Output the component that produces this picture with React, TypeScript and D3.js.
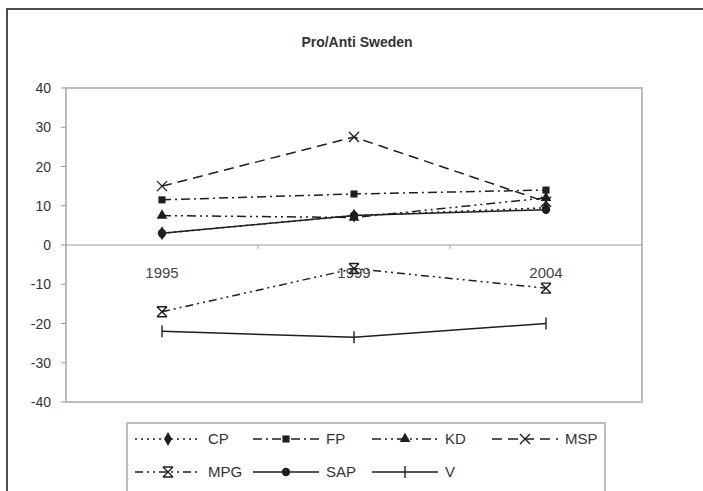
import React from "react";
import * as d3 from "d3";

const years = ["1995", "1999", "2004"];
const yTicks = [40, 30, 20, 10, 0, -10, -20, -30, -40];
const seriesNames = ["CP", "FP", "KD", "MSP", "MPG", "SAP", "V"];
const cpValues = [3, 7.5, 9.5];
const fpValues = [11.5, 13, 14];
const kdValues = [7.5, 7, 12];
const mspValues = [15, 27.5, 11];
const mpgValues = [-17, -6, -11];
const sapValues = [3, 7.5, 9];
const vValues = [-22, -23.5, -20];

const W = 703;
const H = 491;
const plot = { left: 66, right: 642, top: 88, bottom: 402 };

type Style = { dash: string | null; marker: string };
const styles: Record<string, Style> = {
  CP: { dash: "2,4", marker: "diamond" },
  FP: { dash: "9,4,2,4", marker: "square" },
  KD: { dash: "9,4,2,4,2,4", marker: "triangle" },
  MSP: { dash: "10,6", marker: "x" },
  MPG: { dash: "8,4,2,4,2,4", marker: "hourglass" },
  SAP: { dash: null, marker: "circle" },
  V: { dash: null, marker: "plus" },
};

const valuesByName: Record<string, number[]> = {
  CP: cpValues,
  FP: fpValues,
  KD: kdValues,
  MSP: mspValues,
  MPG: mpgValues,
  SAP: sapValues,
  V: vValues,
};

const INK = "#1e1e1e";

function Marker({ kind, x, y }: { kind: string; x: number; y: number }) {
  const t = `translate(${x},${y})`;
  if (kind === "diamond")
    return <path transform={t} d={d3.symbol().type(d3.symbolDiamond).size(55)()!} fill={INK} />;
  if (kind === "square")
    return <path transform={t} d={d3.symbol().type(d3.symbolSquare).size(50)()!} fill={INK} />;
  if (kind === "triangle")
    return <path transform={t} d={d3.symbol().type(d3.symbolTriangle).size(50)()!} fill={INK} />;
  if (kind === "circle") return <circle cx={x} cy={y} r={4.2} fill={INK} />;
  if (kind === "x")
    return (
      <path transform={t} d="M-5,-5L5,5M-5,5L5,-5" stroke={INK} strokeWidth={1.4} fill="none" />
    );
  if (kind === "hourglass")
    return (
      <path
        transform={t}
        d="M-5,-5L5,5M-5,5L5,-5M-5,-5L5,-5M-5,5L5,5"
        stroke={INK}
        strokeWidth={1.4}
        fill="none"
      />
    );
  if (kind === "plus")
    return <path transform={t} d="M0,-6L0,6" stroke={INK} strokeWidth={1.4} fill="none" />;
  return null;
}

export default function App() {
  const x = d3.scaleBand<string>().domain(years).range([plot.left, plot.right]);
  const y = d3.scaleLinear().domain([-40, 40]).range([plot.bottom, plot.top]);
  const cx = (yr: string) => (x(yr) ?? 0) + x.bandwidth() / 2;
  const line = d3
    .line<number>()
    .x((_, i) => cx(years[i]))
    .y((v) => y(v));

  const font = "Arial, 'Liberation Sans', Helvetica, sans-serif";
  const boundaries = years.slice(1).map((yr) => x(yr) ?? 0);

  const legendCols = [135, 253, 372, 492];
  const legendRows = [439, 472];
  const sampleLen = 66;

  return (
    <svg
      width={W}
      height={H}
      style={{ position: "absolute", left: 0, top: 0, display: "block", background: "#fff" }}
      fontFamily={font}
    >
      <rect x={0} y={0} width={W} height={H} fill="#fff" />
      <rect x={7} y={9} width={W + 20} height={H + 20} fill="none" stroke="#222" strokeWidth={1.6} />
      <text x={357} y={47} textAnchor="middle" fontSize={14} fontWeight="bold" fill="#333">
        Pro/Anti Sweden
      </text>

      {/* plot area */}
      <rect
        x={plot.left}
        y={plot.top}
        width={plot.right - plot.left}
        height={plot.bottom - plot.top}
        fill="none"
        stroke="#bdbdbd"
        strokeWidth={2}
      />
      {/* y ticks */}
      {yTicks.map((t) => (
        <g key={t}>
          <line x1={plot.left - 5} x2={plot.left} y1={y(t)} y2={y(t)} stroke="#999" strokeWidth={1} />
          <text x={51} y={y(t) + 5} textAnchor="end" fontSize={14} fill="#333">
            {t}
          </text>
        </g>
      ))}
      {/* x axis at zero */}
      <line x1={plot.left} x2={plot.right} y1={y(0)} y2={y(0)} stroke="#999" strokeWidth={1.2} />
      {boundaries.map((b, i) => (
        <line key={i} x1={b} x2={b} y1={y(0)} y2={y(0) + 4} stroke="#999" strokeWidth={1} />
      ))}
      {years.map((yr) => (
        <text key={yr} x={cx(yr)} y={y(0) + 33} textAnchor="middle" fontSize={15} fill="#444">
          {yr}
        </text>
      ))}

      {/* series */}
      {seriesNames.map((name) => {
        const vals = valuesByName[name];
        const st = styles[name];
        return (
          <g key={name}>
            <path
              d={line(vals)!}
              fill="none"
              stroke={INK}
              strokeWidth={1.5}
              strokeDasharray={st.dash ?? undefined}
            />
            {vals.map((v, i) => (
              <Marker key={i} kind={st.marker} x={cx(years[i])} y={y(v)} />
            ))}
          </g>
        );
      })}

      {/* legend */}
      <rect x={127} y={423} width={478} height={100} fill="#fff" stroke="#bdbdbd" strokeWidth={2} />
      {seriesNames.map((name, i) => {
        const col = i % 4;
        const row = Math.floor(i / 4);
        const lx = legendCols[col];
        const ly = legendRows[row];
        const st = styles[name];
        return (
          <g key={name}>
            <line
              x1={lx}
              x2={lx + sampleLen}
              y1={ly}
              y2={ly}
              stroke={INK}
              strokeWidth={1.5}
              strokeDasharray={st.dash ?? undefined}
            />
            <Marker kind={st.marker} x={lx + sampleLen / 2} y={ly} />
            <text x={lx + sampleLen + 7} y={ly + 5} fontSize={15} fill="#333">
              {name}
            </text>
          </g>
        );
      })}
    </svg>
  );
}
